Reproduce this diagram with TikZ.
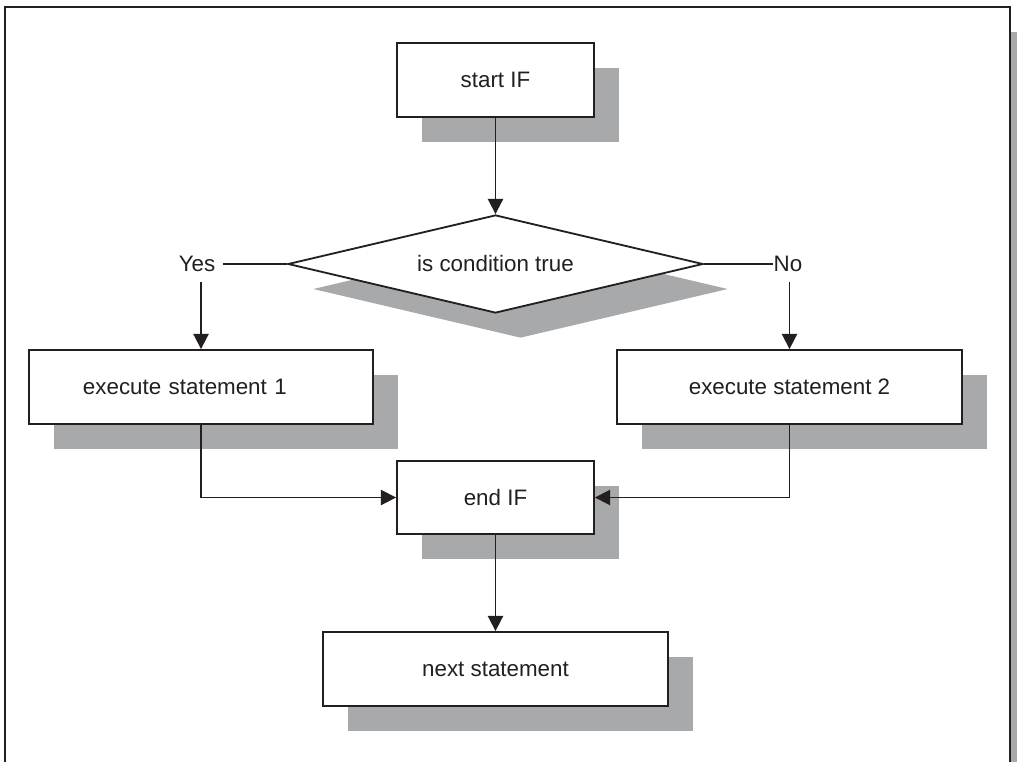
\documentclass[tikz,border=0pt]{standalone}
\usepackage{fontspec}
\setmainfont{Liberation Sans}
\usepackage{tikz}
\usetikzlibrary{shapes.geometric,arrows.meta,positioning,shadows}
\definecolor{inkblack}{RGB}{35,31,32}
\definecolor{shadowgrey}{RGB}{168,169,171}
\tikzset
{
	flowbox/.style = {rectangle, draw=inkblack, line width=1.3pt, fill=white, align=center, minimum width=4.925cm, minimum height=1.85cm, font=\fontsize{15.9pt}{19pt}\selectfont, text=inkblack, flowshadow},
	widebox/.style = {flowbox, minimum width=8.6cm},
	decision/.style = {diamond, draw=inkblack, line width=1.3pt, fill=white, aspect=4.2, inner sep=0pt, minimum width=10.375cm, minimum height=2.45cm, font=\fontsize{15.9pt}{19pt}\selectfont, text=inkblack, flowshadow},
	flowshadow/.style = {drop shadow={shadow xshift=0.625cm, shadow yshift=-0.625cm, fill=shadowgrey, opacity=1}},
	answer/.style = {font=\fontsize{15.9pt}{19pt}\selectfont, text=inkblack, inner xsep=5.5pt, inner ysep=7pt},
	link/.style = {draw=inkblack, line width=1.3pt},
	arrow/.style = {link, -{Triangle[length=0.38cm, width=0.38cm]}},
	frame/.style = {draw=inkblack, line width=1.5pt}
}

\begin{document}
\begin{tikzpicture}[x=0.025cm, y=-0.025cm]
\useasboundingbox (0,0) rectangle (1017,762);
\fill[shadowgrey] (1011,32) rectangle (1017,762);
\draw[frame] (5,762) -- (5,7) -- (1010,7) -- (1010,762);

\node[flowbox] (start) at (495.5,80) {start IF};
\node[decision] (cond) at (495.5,264) {is condition true};
\node[answer] (yes) at (197,264) {Yes};
\node[answer, inner xsep=0.5pt] (no) at (788,264) {No};
\node[widebox, text width=5.9cm, align=left, inner xsep=1.35cm] (stmtone) at (201,387) {execute statement 1};
\node[widebox, minimum width=8.625cm] (stmttwo) at (789.5,387) {execute statement 2};
\node[flowbox, minimum height=1.825cm] (endif) at (495.5,497.5) {end IF};
\node[widebox, minimum width=8.625cm] (next) at (495.5,669) {next statement};

\draw[arrow] (start) -- (cond);
\draw[link] (yes) -- (cond);
\draw[link] (cond) -- (no);
\draw[arrow] (yes.south -| stmtone.north) -- (stmtone.north);
\draw[arrow] (no.south -| stmttwo.north) -- (stmttwo.north);
\draw[arrow] (stmtone) |- (endif);
\draw[arrow] (stmttwo) |- (endif);
\draw[arrow] (endif) -- (next);
\end{tikzpicture}
\end{document}
